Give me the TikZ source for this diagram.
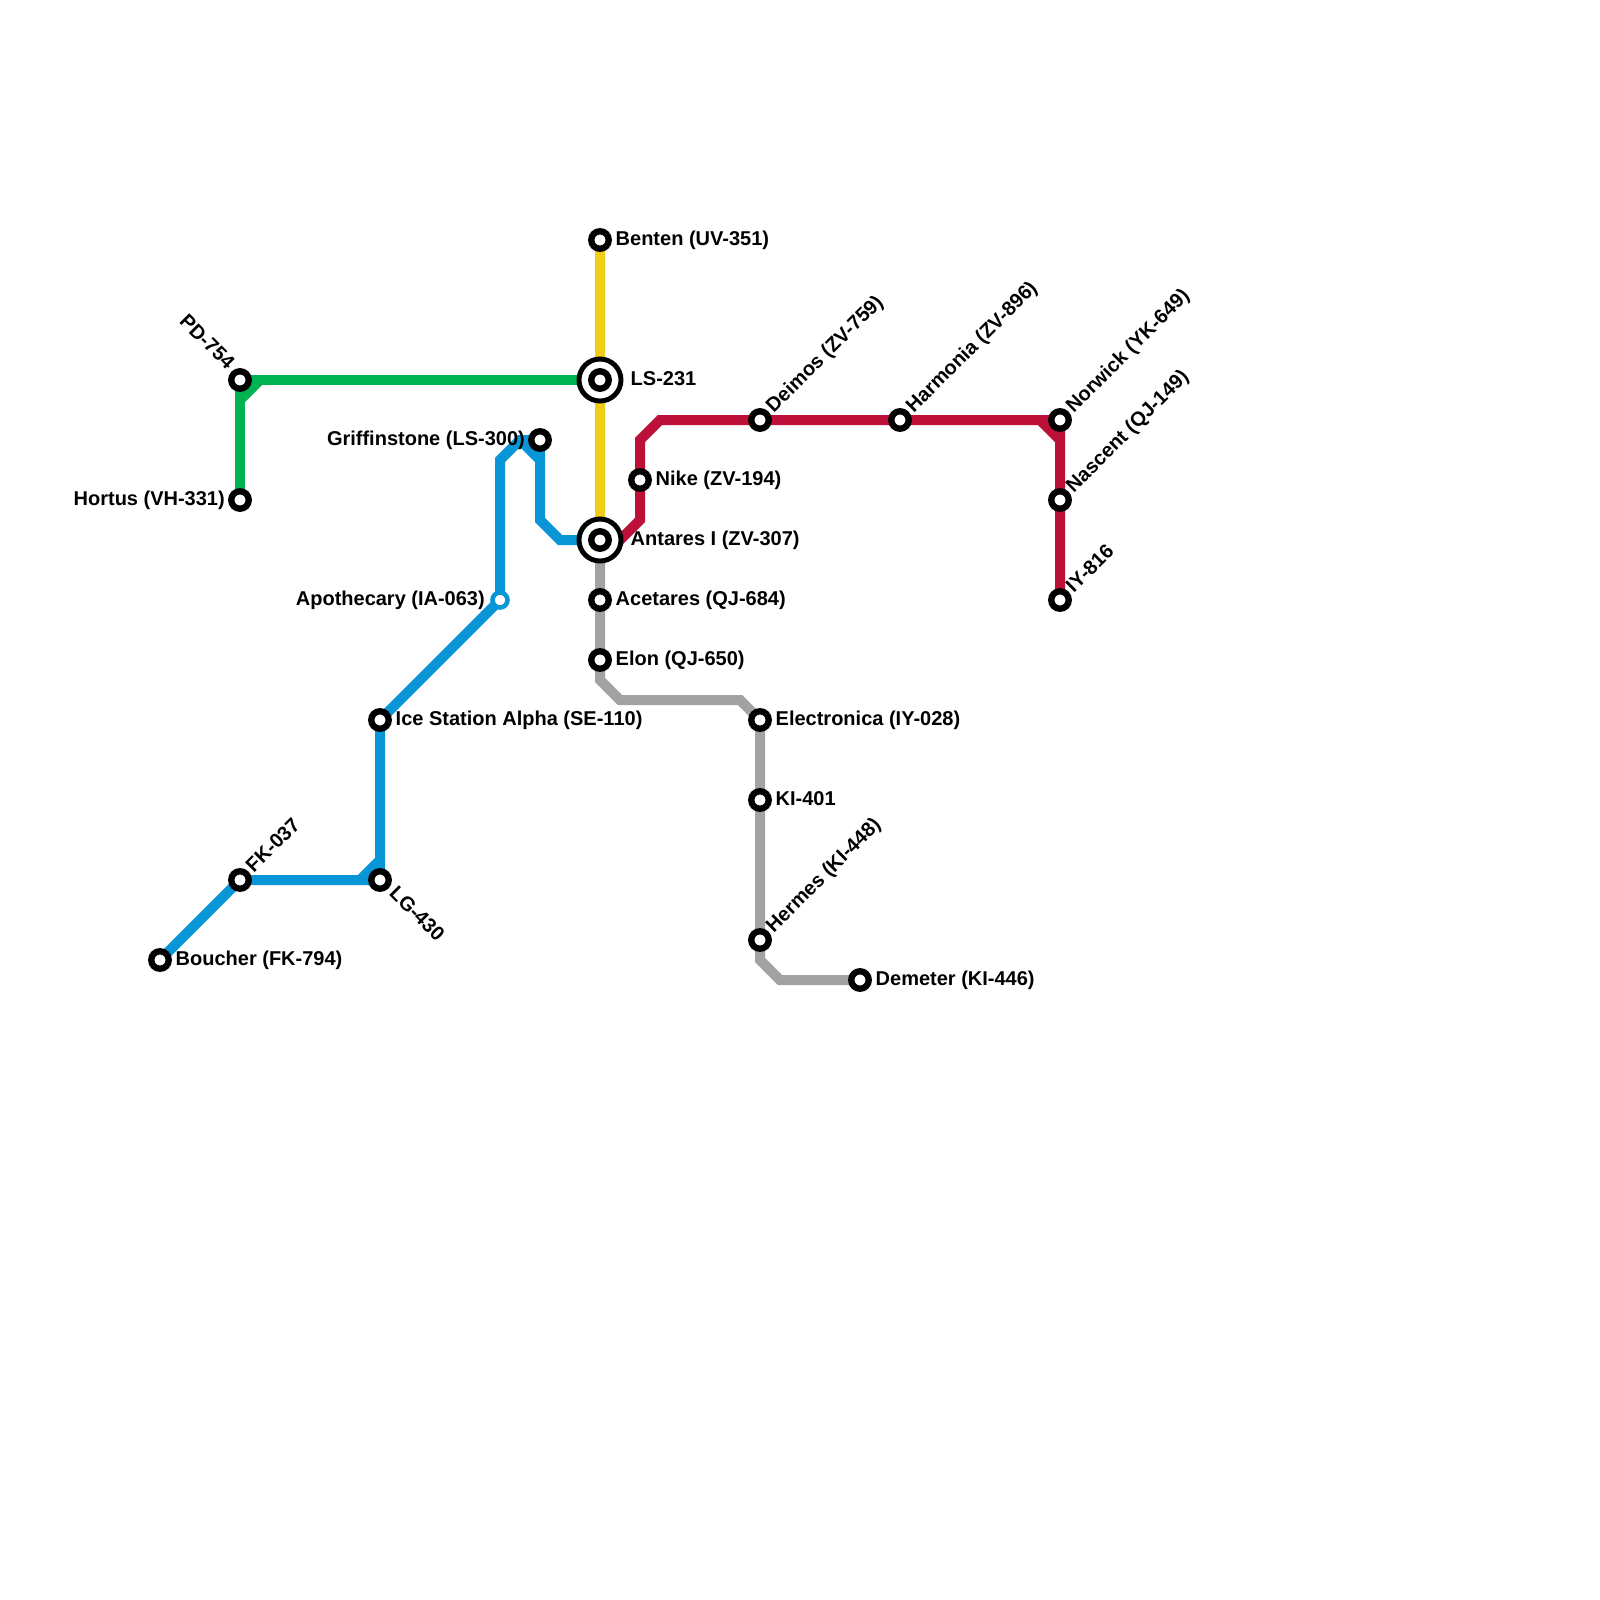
\documentclass[tikz,border=0pt]{standalone}
\usepackage{fontspec}
\setmainfont{Liberation Sans}
\usetikzlibrary{backgrounds}

\tikzset{
	stop/.style={circle,draw=black,fill=white,line width=1.8pt,minimum size=0.175cm,inner sep=0pt},
	hubring/.style={circle,draw=black,fill=white,line width=1.4pt,minimum size=0.42cm,inner sep=0pt},
	bluestop/.style={stop,draw=lineblue,line width=1.3pt,minimum size=0.15cm},
	lbl/.style={inner sep=0pt,font=\fontsize{5.69}{6.8}\selectfont\bfseries},
	lblE/.style={lbl,anchor=base west,xshift=0.15cm,yshift=-0.05cm},
	lblHub/.style={lbl,anchor=base west,xshift=0.3cm,yshift=-0.05cm},
	lblW/.style={lbl,anchor=base east,xshift=-0.145cm,yshift=-0.05cm},
	lblNE/.style={lbl,anchor=base west,xshift=0.135cm,yshift=0.06cm,rotate=45},
	lblSE/.style={lbl,anchor=base west,xshift=0.08cm,yshift=-0.14cm,rotate=-45},
	lblNW/.style={lbl,anchor=base east,xshift=-0.13cm,yshift=0.09cm,rotate=-45},
	metro/.style={line width=2.845pt}
}
\definecolor{lineyellow}{HTML}{F0CE15}
\definecolor{linegreen}{HTML}{00B251}
\definecolor{lineblue}{HTML}{0896D7}
\definecolor{linered}{HTML}{BD1038}
\definecolor{linegray}{HTML}{A2A2A2}

\begin{document}
\begin{tikzpicture}[x=0.2cm,y=-0.2cm]
	\useasboundingbox (0,0) rectangle (80,80);
	% stations
	\node[stop] (Benten) at (30,12) {};
	\node[hubring] (LSring) at (30,19) {};
	\node[stop] (LS) at (30,19) {};
	\node[hubring] (Antaresring) at (30,27) {};
	\node[stop] (Antares) at (30,27) {};
	\node[stop] (Acetares) at (30,30) {};
	\node[stop] (Elon) at (30,33) {};
	\node[stop] (Griffinstone) at (27,22) {};
	\node[bluestop] (Apothecary) at (25,30) {};
	\node[stop] (Ice) at (19,36) {};
	\node[stop] (LG) at (19,44) {};
	\node[stop] (FK) at (12,44) {};
	\node[stop] (Boucher) at (8,48) {};
	\node[stop] (PD) at (12,19) {};
	\node[stop] (Hortus) at (12,25) {};
	\node[stop] (Nike) at (32,24) {};
	\node[stop] (Deimos) at (38,21) {};
	\node[stop] (Harmonia) at (45,21) {};
	\node[stop] (Norwick) at (53,21) {};
	\node[stop] (Nascent) at (53,25) {};
	\node[stop] (IY) at (53,30) {};
	\node[stop] (Electronica) at (38,36) {};
	\node[stop] (KI) at (38,40) {};
	\node[stop] (Hermes) at (38,47) {};
	\node[stop] (Demeter) at (43,49) {};
	% bends
	\coordinate (g1) at (12,20);
	\coordinate (g2) at (13,19);
	\coordinate (b1) at (18,44);
	\coordinate (b2) at (19,43);
	\coordinate (b3) at (25,23);
	\coordinate (b4) at (26,22);
	\coordinate (b5) at (27,23);
	\coordinate (b6) at (27,26);
	\coordinate (b7) at (28,27);
	\coordinate (r1) at (31,27);
	\coordinate (r2) at (32,26);
	\coordinate (r3) at (32,22);
	\coordinate (r4) at (33,21);
	\coordinate (r5) at (52,21);
	\coordinate (r6) at (53,22);
	\coordinate (y1) at (30,34);
	\coordinate (y2) at (31,35);
	\coordinate (y3) at (37,35);
	\coordinate (y4) at (38,48);
	\coordinate (y5) at (39,49);
	% lines
	\begin{scope}[on background layer]
		\draw[metro,lineyellow] (Benten.center) -- (LSring.center) -- (Antaresring.center);
		\draw[metro,linegreen] (Hortus.center) -- (PD.center) -- (LSring.center);
		\draw[metro,linegreen] (g1) -- (g2);
		\draw[metro,lineblue] (Boucher.center) -- (FK.center) -- (LG.center) -- (Ice.center) -- (Apothecary.center) -- (b3) -- (b4) -- (Griffinstone.center) -- (b5) -- (b6) -- (b7) -- (Antaresring.center);
		\draw[metro,lineblue] (b1) -- (b2);
		\draw[metro,lineblue] (b4) -- (b5);
		\draw[metro,linered] (Antaresring.center) -- (r1) -- (r2) -- (Nike.center) -- (r3) -- (r4) -- (Norwick.center) -- (IY.center);
		\draw[metro,linered] (r5) -- (r6);
		\draw[metro,linegray] (Antaresring.center) -- (Elon.center) -- (y1) -- (y2) -- (y3) -- (Electronica.center) -- (y4) -- (y5) -- (Demeter.center);
	\end{scope}
	% labels
	\node[lblE] (BentenT) at (Benten) {Benten (UV-351)};
	\node[lblHub] (LST) at (LS) {LS-231};
	\node[lblHub] (AntaresT) at (Antares) {Antares I (ZV-307)};
	\node[lblE] (AcetaresT) at (Acetares) {Acetares (QJ-684)};
	\node[lblE] (ElonT) at (Elon) {Elon (QJ-650)};
	\node[lblW] (GriffinstoneT) at (Griffinstone) {Griffinstone (LS-300)};
	\node[lblW] (ApothecaryT) at (Apothecary) {Apothecary (IA-063)};
	\node[lblE] (IceT) at (Ice) {Ice Station Alpha (SE-110)};
	\node[lblSE] (LGT) at (LG) {LG-430};
	\node[lblNE] (FKT) at (FK) {FK-037};
	\node[lblE] (BoucherT) at (Boucher) {Boucher (FK-794)};
	\node[lblNW] (PDT) at (PD) {PD-754};
	\node[lblW] (HortusT) at (Hortus) {Hortus (VH-331)};
	\node[lblE] (NikeT) at (Nike) {Nike (ZV-194)};
	\node[lblNE] (DeimosT) at (Deimos) {Deimos (ZV-759)};
	\node[lblNE] (HarmoniaT) at (Harmonia) {Harmonia (ZV-896)};
	\node[lblNE] (NorwickT) at (Norwick) {Norwick (YK-649)};
	\node[lblNE] (NascentT) at (Nascent) {Nascent (QJ-149)};
	\node[lblNE] (IYT) at (IY) {IY-816};
	\node[lblE] (ElectronicaT) at (Electronica) {Electronica (IY-028)};
	\node[lblE] (KIT) at (KI) {KI-401};
	\node[lblNE] (HermesT) at (Hermes) {Hermes (KI-448)};
	\node[lblE] (DemeterT) at (Demeter) {Demeter (KI-446)};
\end{tikzpicture}
\end{document}
